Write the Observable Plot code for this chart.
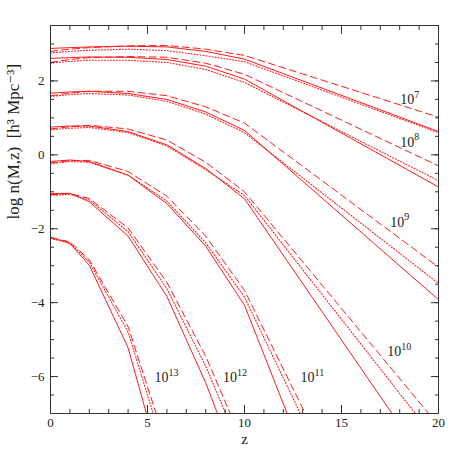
<!DOCTYPE html>
<html>
<head>
<meta charset="utf-8">
<script src="https://cdn.jsdelivr.net/npm/d3@7"></script>
<script src="https://cdn.jsdelivr.net/npm/@observablehq/plot@0.6"></script>
<style>
  html, body { margin: 0; padding: 0; background: #fff; }
</style>
</head>
<body>
<div id="chart"></div>
<script>
// redshift knots
const zKnots = [0, 1, 2, 4, 6, 8, 10, 20];

// log n(M,z): solid (s), dashed (d), dotted (o) for each mass
const m7s  = [2.88, 2.90, 2.92, 2.94, 2.92, 2.80, 2.59, 0.63];
const m7d  = [2.80, 2.86, 2.90, 2.95, 2.96, 2.86, 2.69, 1.02];
const m7o  = [2.76, 2.80, 2.83, 2.86, 2.82, 2.68, 2.52, 0.60];
const m8s  = [2.61, 2.63, 2.65, 2.64, 2.58, 2.40, 2.05, -0.87];
const m8d  = [2.50, 2.58, 2.63, 2.66, 2.64, 2.48, 2.18, -0.30];
const m8o  = [2.48, 2.53, 2.56, 2.56, 2.50, 2.31, 1.96, -0.70];
const m9s  = [1.67, 1.70, 1.72, 1.66, 1.50, 1.16, 0.66, -3.92];
const m9d  = [1.60, 1.67, 1.72, 1.72, 1.60, 1.30, 0.86, -3.04];
const m9o  = [1.58, 1.63, 1.66, 1.62, 1.45, 1.10, 0.60, -3.48];
const m10s = [0.75, 0.78, 0.78, 0.63, 0.27, -0.37, -1.19, -8.83];
const m10d = [0.70, 0.76, 0.80, 0.70, 0.40, -0.20, -1.00, -7.32];
const m10o = [0.68, 0.72, 0.74, 0.60, 0.24, -0.40, -1.10, -7.80];
const m11s = [-0.18, -0.14, -0.18, -0.55, -1.32, -2.47, -4.07, -17.4];
const m11d = [-0.22, -0.16, -0.15, -0.45, -1.12, -2.20, -3.67, -14.3];
const m11o = [-0.24, -0.18, -0.20, -0.55, -1.25, -2.38, -3.85, -14.8];
const m12s = [-1.05, -1.04, -1.27, -2.20, -3.83, -6.17, -8.9];
const m12d = [-1.08, -1.05, -1.18, -1.98, -3.45, -5.45, -7.9];
const m12o = [-1.10, -1.07, -1.22, -2.08, -3.62, -5.72, -8.2];
const m13s = [-2.22, -2.40, -2.99, -5.22, -9.0];
const m13d = [-2.25, -2.35, -2.84, -4.65, -7.9];
const m13o = [-2.27, -2.38, -2.90, -4.80, -8.2];

const seriesList = [
  ["7", "solid", m7s], ["7", "dashed", m7d], ["7", "dotted", m7o],
  ["8", "solid", m8s], ["8", "dashed", m8d], ["8", "dotted", m8o],
  ["9", "solid", m9s], ["9", "dashed", m9d], ["9", "dotted", m9o],
  ["10", "solid", m10s], ["10", "dashed", m10d], ["10", "dotted", m10o],
  ["11", "solid", m11s], ["11", "dashed", m11d], ["11", "dotted", m11o],
  ["12", "solid", m12s], ["12", "dashed", m12d], ["12", "dotted", m12o],
  ["13", "solid", m13s], ["13", "dashed", m13d], ["13", "dotted", m13o]
];

// curve labels: base "10" and exponent, at (z, log n)
const labelExp = ["7", "8", "9", "10", "11", "12", "13"];
const labelZ   = [18.75, 18.75, 18.23, 18.08, 13.61, 9.61, 6.08];
const labelV   = [1.49, 0.34, -1.82, -5.32, -6.03, -6.03, -6.03];

// axis ticks
const xMajor = [0, 5, 10, 15, 20];
const xMinor = d3.range(0, 21, 1);
const yMajor = [-6, -4, -2, 0, 2];
const yMinor = d3.range(-7, 3.51, 0.5);

const rows = [];
seriesList.forEach(([m, style, vals], i) => {
  vals.forEach((v, j) => rows.push({key: i, mass: m, style, z: zKnots[j], v}));
});
const labels = labelExp.map((e, i) => ({e, z: labelZ[i], v: labelV[i]}));

const red = "#ff1a1a";
const dashFor = {solid: null, dashed: "7,4", dotted: "1,2"};

const lineMarks = ["solid", "dashed", "dotted"].map(st =>
  Plot.line(rows.filter(r => r.style === st), {
    x: "z", y: "v", z: "key", stroke: red,
    strokeWidth: st === "dotted" ? 1.1 : 1,
    strokeDasharray: dashFor[st], clip: true
  })
);

const tickAxes = [];
for (const anchor of ["bottom", "top"]) {
  tickAxes.push(Plot.axisX({anchor, ticks: xMinor, tickSize: -4, tickFormat: () => "", label: null, stroke: "#333"}));
  tickAxes.push(Plot.axisX({anchor, ticks: xMajor, tickSize: -8, tickFormat: () => "", label: null, stroke: "#333"}));
}
for (const anchor of ["left", "right"]) {
  tickAxes.push(Plot.axisY({anchor, ticks: yMinor, tickSize: -4, tickFormat: () => "", label: null, stroke: "#333"}));
  tickAxes.push(Plot.axisY({anchor, ticks: yMajor, tickSize: -8, tickFormat: () => "", label: null, stroke: "#333"}));
}

const chart = Plot.plot({
  width: 463,
  height: 463,
  marginLeft: 50,
  marginRight: 25,
  marginTop: 25,
  marginBottom: 50,
  x: {domain: [0, 20]},
  y: {domain: [-7, 3.5]},
  style: {fontFamily: "'Liberation Serif', 'DejaVu Serif', serif", fontSize: "13px", background: "#fff", color: "#222"},
  marks: [
    ...lineMarks,
    ...tickAxes,
    Plot.axisX({anchor: "bottom", ticks: xMajor, tickSize: 0, tickPadding: 4, label: null, fontSize: 13}),
    Plot.axisY({anchor: "left", ticks: yMajor, tickSize: 0, tickPadding: 6, label: null, fontSize: 13}),
    Plot.frame({stroke: "#333", strokeWidth: 1}),
    Plot.text(labels, {x: "z", y: "v", text: () => "10", textAnchor: "end", lineAnchor: "middle", fontSize: 14, fill: "#222"}),
    Plot.text(labels, {x: "z", y: "v", text: "e", textAnchor: "start", lineAnchor: "middle", dy: -5, fontSize: 10, fill: "#222"}),
    Plot.text([0], {frameAnchor: "left", dx: -37, rotate: -90, text: () => "log n(M,z)  [h³ Mpc⁻³]", fontSize: 17, fill: "#222"}),
    Plot.text([0], {frameAnchor: "bottom", dy: 30, text: () => "z", fontSize: 15, fill: "#222"})
  ]
});
document.getElementById("chart").appendChild(chart);
</script>
</body>
</html>
